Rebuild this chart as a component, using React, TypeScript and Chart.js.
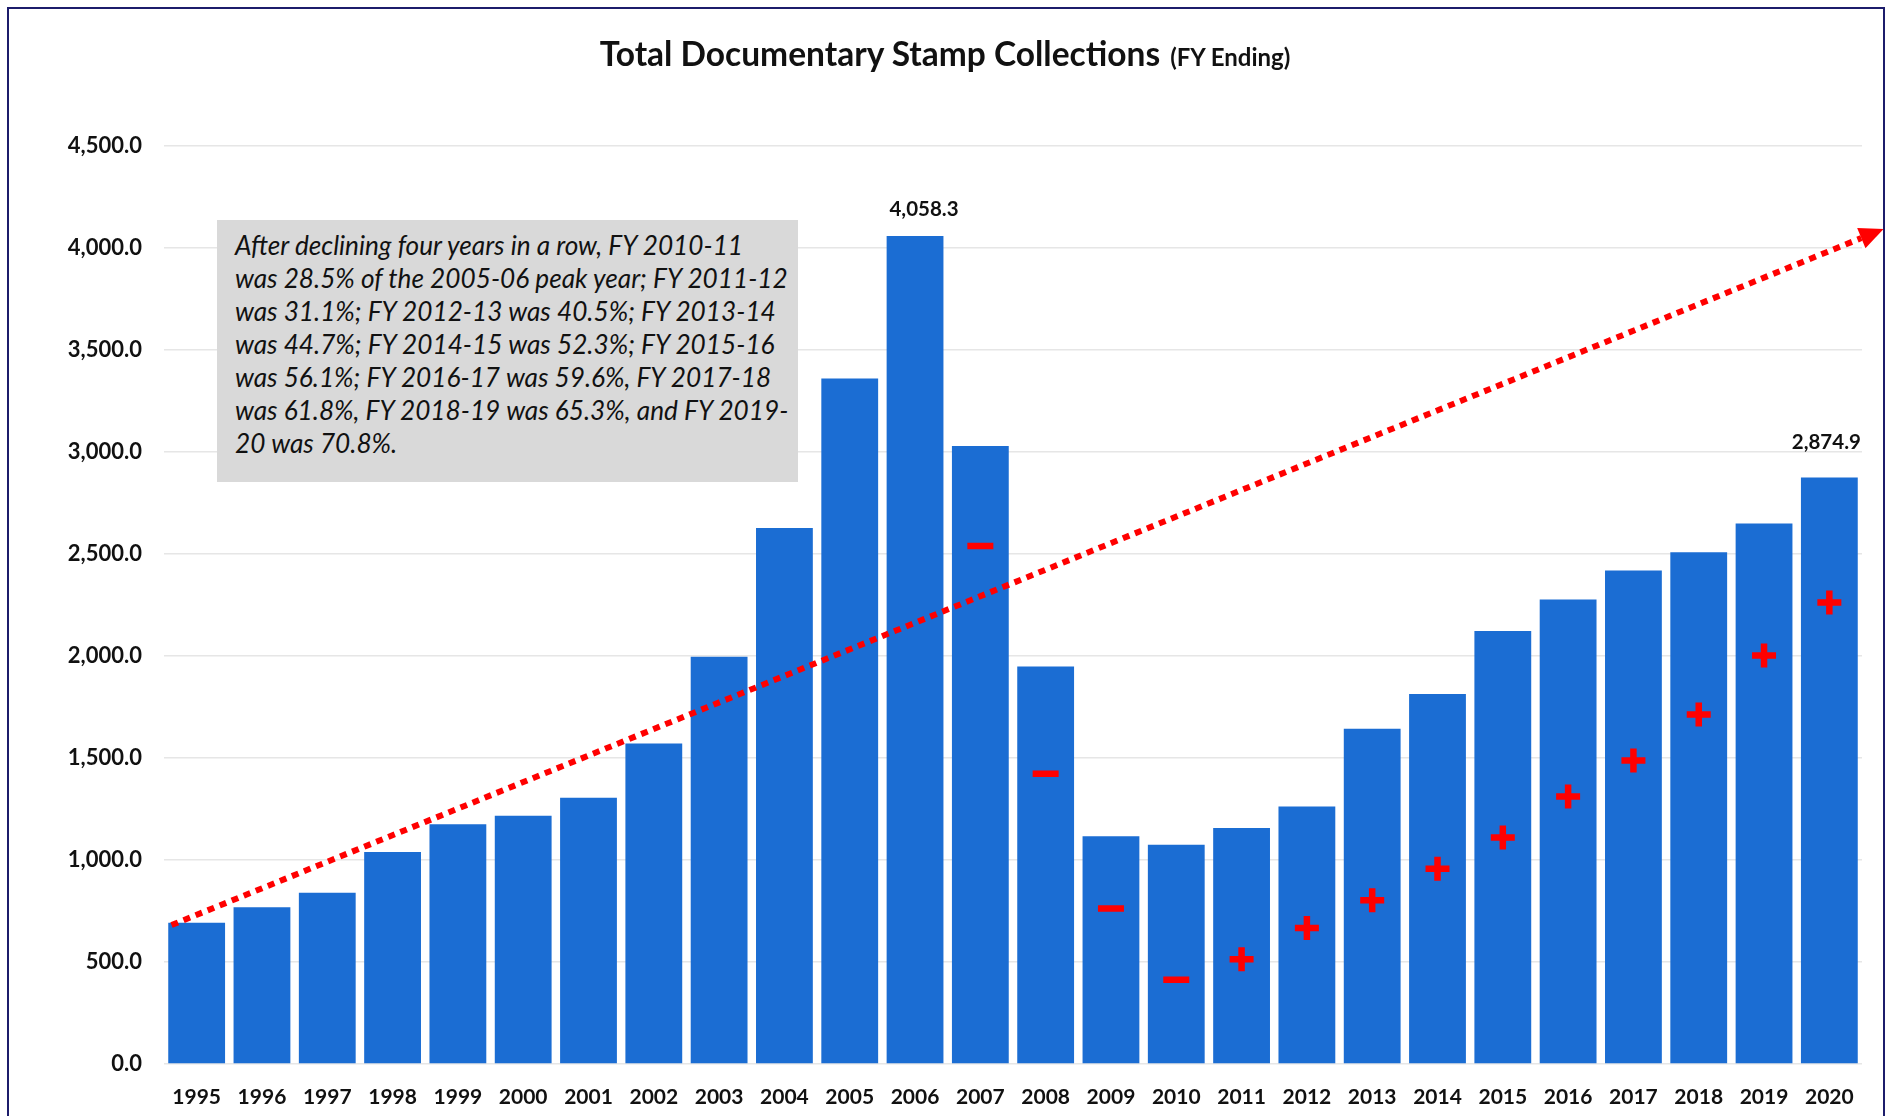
import React, { useEffect, useRef } from 'react';
import { Chart, registerables } from 'chart.js';

Chart.register(...registerables);

const YEARS = ['1995', '1996', '1997', '1998', '1999', '2000', '2001', '2002', '2003', '2004', '2005', '2006', '2007', '2008', '2009', '2010', '2011', '2012', '2013', '2014', '2015', '2016', '2017', '2018', '2019', '2020'];
const COLLECTIONS = [692, 768, 839, 1039, 1175, 1217, 1305, 1571, 1996, 2628, 3360, 4058.3, 3030, 1949, 1116, 1075, 1156.6, 1262.1, 1643.6, 1814.1, 2122.5, 2276.7, 2418.7, 2508.0, 2650.1, 2874.9];
const MARKER_VALUES = [null, null, null, null, null, null, null, null, null, null, null, null, 2539, 1423, 762, 413, 514, 667, 803, 957, 1110, 1311, 1488, 1713, 2002, 2262];
const MARKER_SIGNS = ['', '', '', '', '', '', '', '', '', '', '', '', '-', '-', '-', '-', '+', '+', '+', '+', '+', '+', '+', '+', '+', '+'];
const LABELED_YEARS = ['2006', '2020'];
const Y_MIN = 0;
const Y_MAX = 4500;
const Y_STEP = 500;
const TREND_START = { index: -0.385, value: 681 };
const TREND_END = { index: 25.83, value: 4093 };
const TITLE = 'Total Documentary Stamp Collections';
const SUBTITLE = '(FY Ending)';
const NOTE_LINES = [
  'After declining four years in a row, FY 2010-11',
  'was 28.5% of the 2005-06 peak year; FY 2011-12',
  'was 31.1%; FY 2012-13 was 40.5%; FY 2013-14',
  'was 44.7%; FY 2014-15 was 52.3%; FY 2015-16',
  'was 56.1%; FY 2016-17 was 59.6%, FY 2017-18',
  'was 61.8%, FY 2018-19 was 65.3%, and FY 2019-',
  '20 was 70.8%.',
];

const FONT = 'Lato, "Open Sans", sans-serif';
const BAR_COLOR = '#1B6DD3';
const RED = '#FF0000';
// label nudges (pixels) for the two value labels, in LABELED_YEARS order
const LABEL_NUDGE = [
  { dx: 9, dy: 16 },
  { dx: -3, dy: 25 },
];

const fmt = (v: number) =>
  v.toLocaleString('en-US', { minimumFractionDigits: 1, maximumFractionDigits: 1 });

const overlayPlugin = {
  id: 'overlayPlugin',
  afterDatasetsDraw(chart: any) {
    const { ctx, scales } = chart;
    const x = scales.x;
    const y = scales.y;
    // value labels
    ctx.save();
    ctx.font = `bold 20.5px ${FONT}`;
    ctx.fillStyle = '#111';
    ctx.textAlign = 'center';
    ctx.textBaseline = 'bottom';
    LABELED_YEARS.forEach((yr, k) => {
      const i = YEARS.indexOf(yr);
      const px = x.getPixelForValue(i);
      const py = y.getPixelForValue(COLLECTIONS[i]);
      ctx.fillText(fmt(COLLECTIONS[i]), px + LABEL_NUDGE[k].dx, py - LABEL_NUDGE[k].dy);
    });
    ctx.restore();

    // dotted trend arrow
    const x0 = x.getPixelForValue(TREND_START.index);
    const y0 = y.getPixelForValue(TREND_START.value);
    const x1 = x.getPixelForValue(TREND_END.index);
    const y1 = y.getPixelForValue(TREND_END.value);
    const ang = Math.atan2(y1 - y0, x1 - x0);
    const headLen = 24;
    const headW = 11;
    const bx = x1 - headLen * Math.cos(ang);
    const by = y1 - headLen * Math.sin(ang);
    ctx.save();
    ctx.strokeStyle = RED;
    ctx.lineWidth = 6;
    ctx.lineCap = 'butt';
    ctx.setLineDash([7, 6]);
    ctx.beginPath();
    ctx.moveTo(x0, y0);
    ctx.lineTo(bx, by);
    ctx.stroke();
    ctx.setLineDash([]);
    ctx.fillStyle = RED;
    ctx.beginPath();
    ctx.moveTo(x1, y1);
    ctx.lineTo(bx + headW * Math.sin(ang), by - headW * Math.cos(ang));
    ctx.lineTo(bx - headW * Math.sin(ang), by + headW * Math.cos(ang));
    ctx.closePath();
    ctx.fill();
    ctx.restore();
  },
};

export default function App() {
  const canvasRef = useRef<HTMLCanvasElement | null>(null);

  useEffect(() => {
    if (!canvasRef.current) return;
    const chart = new Chart(canvasRef.current, {
      type: 'bar',
      data: {
        labels: YEARS,
        datasets: [
          {
            type: 'line',
            label: 'Change',
            data: MARKER_VALUES as any,
            showLine: false,
            pointStyle: MARKER_SIGNS.map((s) => (s === '+' ? 'cross' : 'line')) as any,
            pointRadius: MARKER_SIGNS.map((s) => (s === '+' ? 12 : 13)) as any,
            pointBorderWidth: 6.5,
            pointBorderColor: RED,
            pointBackgroundColor: RED,
            order: 0,
          } as any,
          {
            type: 'bar',
            label: 'Collections',
            data: COLLECTIONS,
            backgroundColor: BAR_COLOR,
            borderWidth: 0,
            barPercentage: 0.87,
            categoryPercentage: 1,
            order: 1,
          },
        ],
      },
      options: {
        responsive: false,
        animation: false,
        devicePixelRatio: 1,
        layout: { padding: { top: 146, left: 8, right: 28, bottom: 0 } },
        plugins: {
          legend: { display: false },
          title: { display: false },
          tooltip: { enabled: false },
        },
        scales: {
          x: {
            grid: { display: false, drawTicks: false },
            border: { display: false },
            ticks: {
              padding: 21,
              color: '#111',
              font: { family: FONT, size: 21, weight: 'bold' },
              maxRotation: 0,
              autoSkip: false,
            },
            afterFit: (s: any) => {
              s.height = 52;
            },
          },
          y: {
            min: Y_MIN,
            max: Y_MAX,
            grid: { color: '#E6E6E6', lineWidth: 1.5, drawTicks: false },
            border: { display: false },
            ticks: {
              stepSize: Y_STEP,
              padding: 22,
              color: '#111',
              font: { family: FONT, size: 22, weight: 'bold' },
              callback: (v: any) => fmt(Number(v)),
            },
            afterFit: (s: any) => {
              s.width = 156;
            },
          },
        },
      },
      plugins: [overlayPlugin],
    });
    return () => chart.destroy();
  }, []);

  return (
    <div style={{ position: 'fixed', left: 0, top: 0, width: 1890, height: 1116, overflow: 'hidden', background: '#fff' }}>
      <canvas ref={canvasRef} width={1890} height={1116} style={{ position: 'absolute', left: 0, top: 0, width: 1890, height: 1116 }} />
      <div
        style={{
          position: 'absolute',
          left: 7,
          top: 7,
          width: 1874,
          height: 1140,
          border: '2px solid #1C1C6B',
          pointerEvents: 'none',
        }}
      />
      <div
        style={{
          position: 'absolute',
          left: 0,
          width: 1890,
          top: 33,
          textAlign: 'center',
          fontFamily: FONT,
          fontWeight: 'bold',
          color: '#111',
          lineHeight: '40px',
          whiteSpace: 'nowrap',
        }}
      >
        <span style={{ fontSize: 33.5 }}>{TITLE}</span>
        <span style={{ fontSize: 24, marginLeft: 10 }}>{SUBTITLE}</span>
      </div>
      <div
        style={{
          position: 'absolute',
          left: 217,
          top: 220,
          width: 581,
          height: 262,
          boxSizing: 'border-box',
          background: '#D9D9D9',
          padding: '9px 0 0 18px',
          fontFamily: FONT,
          fontStyle: 'italic',
          fontSize: 26.2,
          lineHeight: '33px',
          color: '#111',
          whiteSpace: 'nowrap',
        }}
      >
        {NOTE_LINES.map((l, i) => (
          <div key={i}>{l}</div>
        ))}
      </div>
    </div>
  );
}
